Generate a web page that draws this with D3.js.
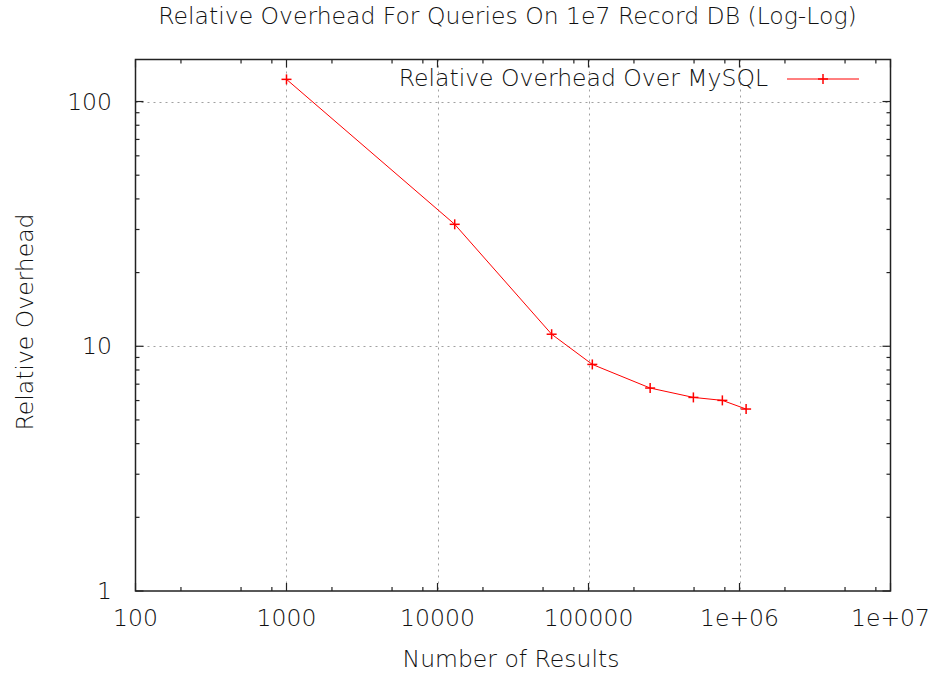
<!DOCTYPE html>
<html><head><meta charset="utf-8">
<script src="https://cdn.jsdelivr.net/npm/d3@7"></script>
<style>body{margin:0;background:#fff}svg{display:block}text{font-family:"DejaVu Sans",sans-serif;fill:#111;font-weight:300}</style>
</head><body>
<svg id="c" width="933" height="675"></svg>
<script>
const xValues = [1000, 13000, 57000, 106000, 256000, 495000, 770000, 1106000];
const yValues = [123.2, 31.5, 11.2, 8.43, 6.75, 6.18, 6.01, 5.54];
const seriesName = "Relative Overhead Over MySQL";
const xTickValues = [100, 1000, 10000, 100000, 1e6, 1e7];
const xTickLabels = ["100", "1000", "10000", "100000", "1e+06", "1e+07"];
const yTickValues = [1, 10, 100];
const yTickLabels = ["1", "10", "100"];
const titleText = "Relative Overhead For Queries On 1e7 Record DB (Log-Log)";
const xLabel = "Number of Results";
const yLabel = "Relative Overhead";

const L = 135.5, R = 890.5, T = 59.5, B = 591;
const svg = d3.select("#c");
const x = d3.scaleLog().domain([100, 1e7]).range([L, R]);
const y = d3.scaleLog().domain([1, 148.5]).range([B, T]);

// minor ticks
const xMinor = [];
for (let d = 100; d < 1e7; d *= 10) [2,5,8].forEach(m => xMinor.push(d*m));
const yMinor = [];
for (let d = 1; d < 150; d *= 10) [2,3,4,5,6,7,8,9].forEach(m => { if (d*m < 148.5) yMinor.push(d*m); });

// grid
const grid = svg.append("g").attr("stroke", "#a0a0a0").attr("stroke-width", 1).attr("stroke-dasharray", "2,4");
xTickValues.filter(v => v > 100 && v < 1e7).forEach(v => {
  grid.append("line").attr("x1", Math.round(x(v))+0.5).attr("x2", Math.round(x(v))+0.5).attr("y1", T).attr("y2", B);
});
yTickValues.filter(v => v > 1).forEach(v => {
  grid.append("line").attr("y1", Math.round(y(v))+0.5).attr("y2", Math.round(y(v))+0.5).attr("x1", L).attr("x2", R);
});

// axes ticks (mirrored)
const tk = svg.append("g").attr("stroke", "#222").attr("stroke-width", 1.2);
xTickValues.forEach(v => {
  const px = x(v);
  tk.append("line").attr("x1", px).attr("x2", px).attr("y1", B).attr("y2", B-8);
  tk.append("line").attr("x1", px).attr("x2", px).attr("y1", T).attr("y2", T+8);
});
xMinor.forEach(v => {
  const px = x(v);
  tk.append("line").attr("x1", px).attr("x2", px).attr("y1", B).attr("y2", B-4);
  tk.append("line").attr("x1", px).attr("x2", px).attr("y1", T).attr("y2", T+4);
});
yTickValues.forEach(v => {
  const py = y(v);
  tk.append("line").attr("x1", L).attr("x2", L+8).attr("y1", py).attr("y2", py);
  tk.append("line").attr("x1", R).attr("x2", R-8).attr("y1", py).attr("y2", py);
});
yMinor.forEach(v => {
  const py = y(v);
  tk.append("line").attr("x1", L).attr("x2", L+4).attr("y1", py).attr("y2", py);
  tk.append("line").attr("x1", R).attr("x2", R-4).attr("y1", py).attr("y2", py);
});

// border
svg.append("rect").attr("x", L).attr("y", T).attr("width", R-L).attr("height", B-T)
  .attr("fill", "none").attr("stroke", "#222").attr("stroke-width", 1.5);

// tick labels
const fs = 23.5;
xTickValues.forEach((v,i) => {
  svg.append("text").attr("x", x(v)).attr("y", 626).attr("text-anchor", "middle")
    .attr("font-size", fs).text(xTickLabels[i]);
});
yTickValues.forEach((v,i) => {
  svg.append("text").attr("x", 112).attr("y", y(v)+8).attr("text-anchor", "end")
    .attr("font-size", fs).text(yTickLabels[i]);
});

// titles
svg.append("text").attr("x", 507.5).attr("y", 24).attr("text-anchor", "middle").attr("font-size", fs).text(titleText);
svg.append("text").attr("x", 511).attr("y", 667).attr("text-anchor", "middle").attr("font-size", fs).text(xLabel);
svg.append("text").attr("transform", "translate(33,322) rotate(-90)").attr("text-anchor", "middle").attr("font-size", fs).text(yLabel);

// series
const pts = xValues.map((v,i) => [x(v), y(yValues[i])]);
svg.append("path").attr("d", d3.line()(pts)).attr("fill", "none").attr("stroke", "#ff0000").attr("stroke-width", 1);
const m = svg.append("g").attr("stroke", "#ff0000").attr("stroke-width", 1.5);
pts.forEach(p => {
  m.append("line").attr("x1", p[0]-5).attr("x2", p[0]+5).attr("y1", p[1]).attr("y2", p[1]);
  m.append("line").attr("x1", p[0]).attr("x2", p[0]).attr("y1", p[1]-5).attr("y2", p[1]+5);
});

// legend
svg.append("text").attr("x", 768).attr("y", 86).attr("text-anchor", "end").attr("font-size", fs).text(seriesName);
svg.append("line").attr("x1", 787).attr("x2", 859).attr("y1", 79).attr("y2", 79).attr("stroke", "#ff0000").attr("stroke-width", 1);
m.append("line").attr("x1", 818).attr("x2", 828).attr("y1", 79).attr("y2", 79);
m.append("line").attr("x1", 823).attr("x2", 823).attr("y1", 74).attr("y2", 84);
</script>
</body></html>
